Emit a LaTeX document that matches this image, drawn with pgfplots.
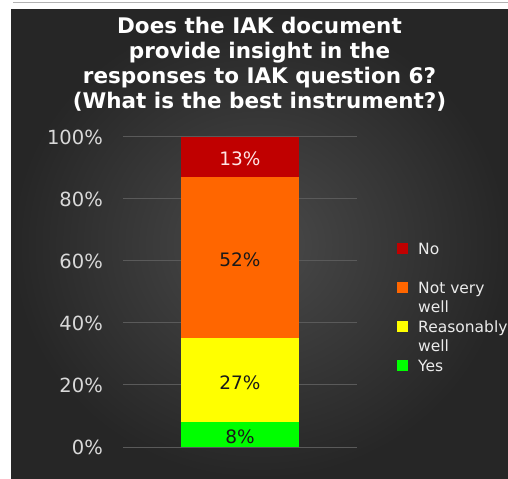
\documentclass[border=0pt]{standalone}
\usepackage{pgfplots}
\pgfplotsset{compat=1.18}
\usepackage{fontspec}
\setmainfont{DejaVu Sans}
\definecolor{cNo}{HTML}{C00000}
\definecolor{cNot}{HTML}{FF6600}
\definecolor{cReas}{HTML}{FFFF00}
\definecolor{cYes}{HTML}{00FF00}
\definecolor{gridc}{HTML}{5A5A5A}
\definecolor{tickc}{HTML}{D9D9D9}
\definecolor{bgin}{HTML}{4A4A4A}
\definecolor{bgout}{HTML}{262626}
\begin{document}
\begin{tikzpicture}
\fill[white] (0,0) rectangle (508bp,479bp);
\shade[inner color=bgin, outer color=bgout] (11bp,0bp) rectangle (508bp,469bp);
\draw[gray!60, line width=1bp] (13bp,476bp) -- (508bp,476bp);
\node[anchor=north, align=center, font=\bfseries\fontsize{21.5bp}{25bp}\selectfont, text=white, inner sep=0pt] at (259.5bp,462bp)
 {Does the IAK document\\provide insight in the\\responses to IAK question 6?\\(What is the best instrument?)};
\begin{axis}[
 at={(123bp,32bp)}, anchor=south west,
 scale only axis, width=234bp, height=310bp,
 ybar stacked, bar width=118bp,
 xmin=-1, xmax=1, ymin=0, ymax=100,
 xtick=\empty, ytick={0,20,40,60,80,100},
 yticklabel={\pgfmathprintnumber{\tick}\%},
 /pgf/number format/assume math mode=true,
 yticklabel style={font=\fontsize{19.5bp}{20bp}\selectfont, text=tickc, inner sep=0pt},
 yticklabel shift=20bp,
 axis line style={draw=none}, major tick length=0pt,
 ymajorgrids, grid style={gridc, line width=1bp},
 nodes near coords={\pgfmathprintnumber{\pgfplotspointmeta}\%},
 point meta=rawy,
 every node near coord/.append style={anchor=center, yshift=-2bp, font=\fontsize{18.5bp}{20bp}\selectfont, text=black!90},
 reverse legend,
 legend cell align=left,
 legend image code/.code={\fill[#1] (0bp,-5.5bp) rectangle (11bp,5.5bp);},
 legend style={at={(1.171,0.6616)}, anchor=north west, draw=none, fill=none, inner sep=0pt,
   row sep=27bp, column sep=10bp, font=\fontsize{15.5bp}{19bp}\selectfont, text=white!92!black,
   nodes={inner sep=0pt, text height=12bp, text depth=0pt}},
]
\addplot[fill=cYes, draw=none] coordinates {(0,8)};
\addlegendentry{Yes}
\addplot[fill=cReas, draw=none] coordinates {(0,27)};
\addlegendentry{\parbox[t]{100bp}{Reasonably\\well}}
\addplot[fill=cNot, draw=none] coordinates {(0,52)};
\addlegendentry{\parbox[t]{100bp}{Not very\\well}}
\addplot[fill=cNo, draw=none, every node near coord/.append style={text=red!10!white}] coordinates {(0,13)};
\addlegendentry{No}
\end{axis}
\pgfresetboundingbox
\path (0,0) rectangle (508bp,479bp);
\end{tikzpicture}
\end{document}
